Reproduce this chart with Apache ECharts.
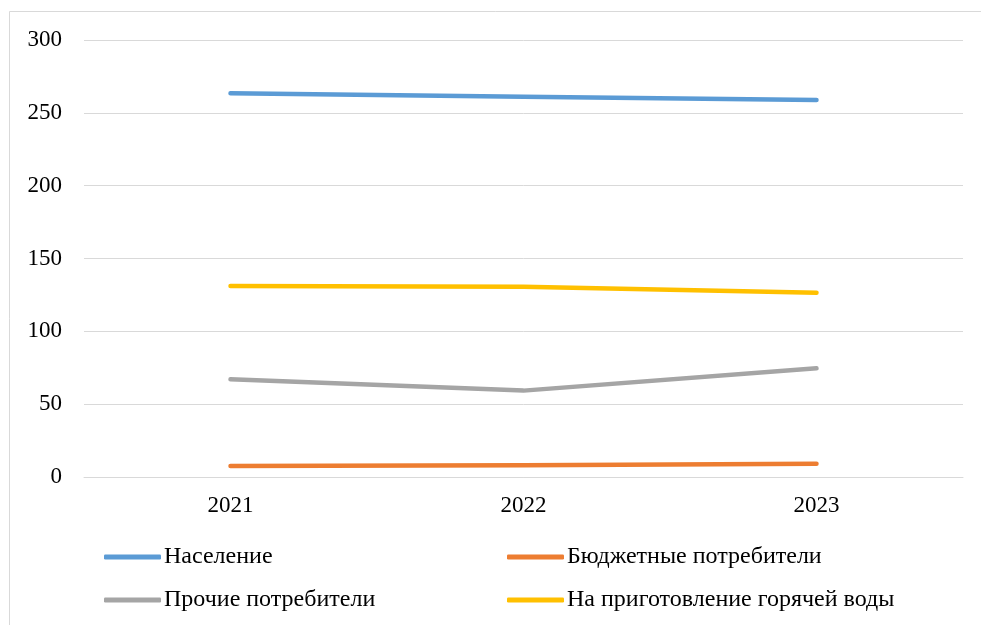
<!DOCTYPE html>
<html>
<head>
<meta charset="utf-8">
<script src="https://cdn.jsdelivr.net/npm/echarts@6/dist/echarts.min.js"></script>
<style>
  html, body { margin: 0; padding: 0; background: #fff; }
  #chart { width: 981px; height: 625px; }
</style>
</head>
<body>
<div id="chart"></div>
<script>
// Years on the category axis
const years = ['2021', '2022', '2023'];

// Consumption by consumer group
const naselenie = [263.4, 261.1, 258.8];
const byudzhetnye = [7.6, 8.0, 9.1];
const prochie = [67.1, 59.3, 74.6];
const goryachayaVoda = [131.1, 130.6, 126.5];

// Series names as shown in the legend
const seriesNames = [
  'Население',
  'Бюджетные потребители',
  'Прочие потребители',
  'На приготовление горячей воды'
];

const colors = ['#5B9BD5', '#ED7D31', '#A5A5A5', '#FFC000'];
const font = '"Liberation Serif", "Times New Roman", serif';

const chart = echarts.init(document.getElementById('chart'), null, { renderer: 'canvas' });

function makeLine(name, data, color) {
  return {
    name: name,
    type: 'line',
    data: data,
    symbol: 'none',
    showSymbol: false,
    smooth: false,
    color: color,
    lineStyle: { width: 4.5, color: color, cap: 'round', join: 'round' },
    emphasis: { disabled: true },
    z: 3
  };
}

function makeLegend(name, left, top) {
  return {
    data: [name],
    left: left,
    top: top,
    orient: 'horizontal',
    icon: 'roundRect',
    itemWidth: 57,
    itemHeight: 5,
    itemGap: 0,
    selectedMode: false,
    padding: 0,
    textStyle: { fontFamily: font, fontSize: 24, color: '#000', padding: [0, 0, 0, -2] }
  };
}

chart.setOption({
  animation: false,
  backgroundColor: '#fff',
  graphic: [{
    type: 'rect',
    shape: { x: 9.5, y: 11.5, width: 1100, height: 800 },
    style: { fill: 'none', stroke: '#d9d9d9', lineWidth: 1 },
    silent: true,
    z: -1
  }],
  grid: { left: 84, right: 18, top: 40, bottom: 148, containLabel: false },
  legend: [
    makeLegend(seriesNames[0], 104, 545),
    makeLegend(seriesNames[1], 507, 545),
    makeLegend(seriesNames[2], 104, 588),
    makeLegend(seriesNames[3], 507, 588)
  ],
  xAxis: {
    type: 'category',
    data: years,
    boundaryGap: true,
    axisLine: { show: true, lineStyle: { color: '#d9d9d9', width: 1 } },
    axisTick: { show: false },
    axisLabel: { fontFamily: font, fontSize: 23, color: '#000', margin: 17 },
    splitLine: { show: false }
  },
  yAxis: {
    type: 'value',
    min: 0,
    max: 300,
    interval: 50,
    axisLine: { show: false },
    axisTick: { show: false },
    axisLabel: { fontFamily: font, fontSize: 23, color: '#000', margin: 22 },
    splitLine: { show: true, lineStyle: { color: '#d9d9d9', width: 1 } }
  },
  series: [
    makeLine(seriesNames[0], naselenie, colors[0]),
    makeLine(seriesNames[1], byudzhetnye, colors[1]),
    makeLine(seriesNames[2], prochie, colors[2]),
    makeLine(seriesNames[3], goryachayaVoda, colors[3])
  ]
});
</script>
</body>
</html>
